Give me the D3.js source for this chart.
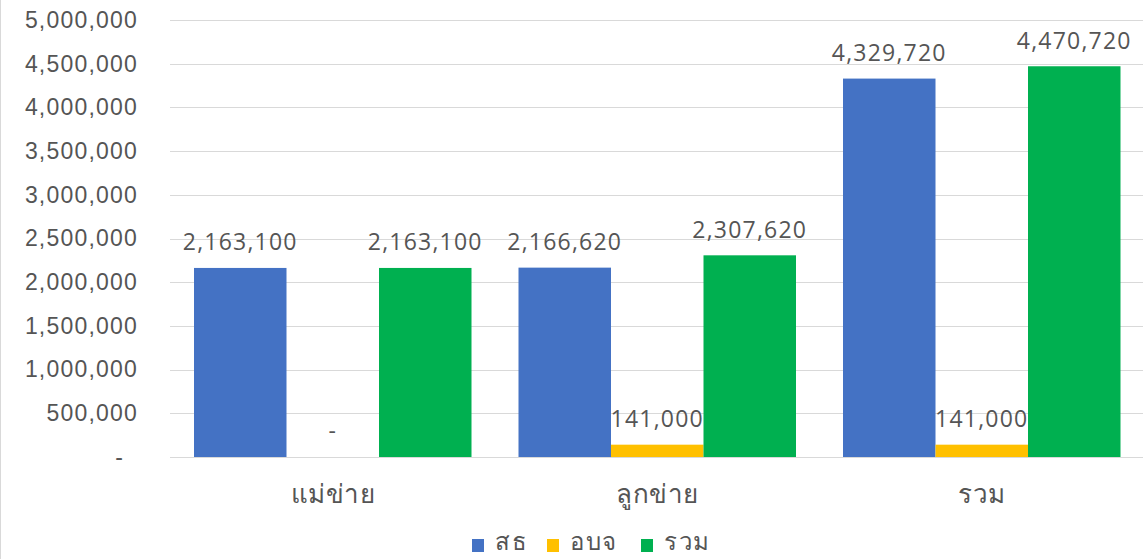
<!DOCTYPE html>
<html><head><meta charset="utf-8">
<script src="https://cdn.jsdelivr.net/npm/d3@7"></script>
<style>
html,body{margin:0;padding:0;background:#fff;}
svg{display:block;font-family:"Open Sans","Noto Sans",Tahoma,sans-serif;}
</style></head>
<body>
<svg id="c" width="1143" height="559"></svg>
<script>
const categories = ["แม่ข่าย", "ลูกข่าย", "รวม"];
const seriesNames = ["สธ", "อบจ", "รวม"];
const seriesColors = ["#4472C4", "#FFC000", "#00B050"];
const valuesSaTho = [2163100, 2166620, 4329720];
const valuesOrBorJor = [0, 141000, 141000];
const valuesTotal = [2163100, 2307620, 4470720];
const yTicks = [0, 500000, 1000000, 1500000, 2000000, 2500000, 3000000, 3500000, 4000000, 4500000, 5000000];

const seriesValues = [valuesSaTho, valuesOrBorJor, valuesTotal];
const svg = d3.select("#c");
const W = 1143, H = 559;
const txt = "#555555";

svg.append("line").attr("x1",0.5).attr("x2",0.5).attr("y1",0).attr("y2",H).attr("stroke","#d9d9d9");

const x = d3.scaleBand().domain(categories).range([170.5, 1144]).paddingInner(0).paddingOuter(0);
const xs = d3.scaleBand().domain(d3.range(seriesNames.length)).range([23.5, x.bandwidth()-23.5]).padding(0);
const y = d3.scaleLinear().domain([0, 5000000]).range([457, 20]);

// grid
svg.append("g").selectAll("line").data(yTicks).join("line")
  .attr("x1",170).attr("x2",W).attr("y1",d=>Math.round(y(d))+0.5).attr("y2",d=>Math.round(y(d))+0.5)
  .attr("stroke","#d9d9d9").attr("stroke-width",1);

// y axis
const fmt = d3.format(",");
const yAxis = svg.append("g").attr("transform","translate(170,0)")
  .call(d3.axisLeft(y).tickValues(yTicks).tickSize(0).tickPadding(32).tickFormat(d => d===0 ? "-" : fmt(d)));
yAxis.select(".domain").remove();
yAxis.selectAll("text").attr("fill",txt).style("font-size","23px").style("letter-spacing","1.2px")
  .attr("font-family",null);
yAxis.selectAll(".tick").filter(d=>d===0).select("text").attr("x",-46);

// bars
const groups = svg.append("g").selectAll("g").data(categories).join("g")
  .attr("transform",d=>`translate(${x(d)},0)`);
seriesNames.forEach((s,si)=>{
  groups.append("rect")
    .attr("x",xs(si)).attr("width",xs.bandwidth())
    .attr("y",(d,i)=>y(seriesValues[si][i]))
    .attr("height",(d,i)=>y(0)-y(seriesValues[si][i]))
    .attr("fill",seriesColors[si]);
});
seriesNames.forEach((s,si)=>{
  groups.append("text")
    .attr("x",xs(si)+xs.bandwidth()/2)
    .attr("y",(d,i)=>y(seriesValues[si][i])-26)
    .attr("dy","0.36em")
    .attr("text-anchor","middle")
    .attr("fill",txt).style("font-size","23px").style("letter-spacing","1.2px")
    .text((d,i)=>seriesValues[si][i]===0 ? "-" : fmt(seriesValues[si][i]));
});

// x labels
svg.append("g").selectAll("text").data(categories).join("text")
  .attr("x",d=>x(d)+x.bandwidth()/2).attr("y",503)
  .attr("text-anchor","middle").attr("fill",txt).style("font-size","26px").style("letter-spacing","0.5px")
  .text(d=>d);

// legend
const legendX = [472, 547, 641];
const lg = svg.append("g").selectAll("g").data(seriesNames).join("g")
  .attr("transform",(d,i)=>`translate(${legendX[i]},0)`);
lg.append("rect").attr("x",0).attr("y",539).attr("width",12).attr("height",13).attr("fill",(d,i)=>seriesColors[i]);
lg.append("text").attr("x",23).attr("y",550).attr("fill",txt).style("font-size","24px").style("letter-spacing","1.6px").text(d=>d);
</script>
</body></html>
